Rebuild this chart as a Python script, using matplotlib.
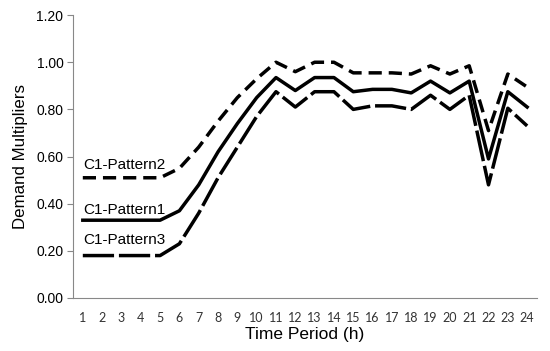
import matplotlib
matplotlib.use("Agg")
import matplotlib.pyplot as plt

hours = list(range(1, 25))
pattern1 = [0.33, 0.33, 0.33, 0.33, 0.33, 0.37, 0.48, 0.62, 0.74, 0.85, 0.935, 0.88,
            0.935, 0.935, 0.875, 0.885, 0.885, 0.87, 0.92, 0.87, 0.92, 0.59, 0.875, 0.81]
pattern2 = [0.51, 0.51, 0.51, 0.51, 0.51, 0.55, 0.64, 0.75, 0.85, 0.93, 1.00, 0.96,
            1.00, 1.00, 0.955, 0.955, 0.955, 0.95, 0.985, 0.95, 0.985, 0.71, 0.95, 0.895]
pattern3 = [0.18, 0.18, 0.18, 0.18, 0.18, 0.23, 0.36, 0.51, 0.64, 0.77, 0.875, 0.81,
            0.875, 0.875, 0.80, 0.815, 0.815, 0.80, 0.86, 0.80, 0.86, 0.48, 0.805, 0.73]
yticks = [0.0, 0.2, 0.4, 0.6, 0.8, 1.0, 1.2]

plt.rcParams["font.family"] = ["Liberation Sans", "DejaVu Sans"]

fig = plt.figure(figsize=(5.5, 3.51), dpi=100)
ax = fig.add_axes([0.133, 0.151, 0.843, 0.806])

ax.plot(hours, pattern2, color="black", lw=2.5, dashes=(3.8, 2.0))
ax.plot(hours, pattern1, color="black", lw=2.5)
ax.plot(hours, pattern3, color="black", lw=2.5, dashes=(9, 1.4))

ax.text(1, 0.565, "C1-Pattern2", fontsize=11, va="center", ha="left")
ax.text(1, 0.373, "C1-Pattern1", fontsize=11, va="center", ha="left")
ax.text(1, 0.246, "C1-Pattern3", fontsize=11, va="center", ha="left")

ax.set_xlim(0.5, 24.5)
ax.set_ylim(0, 1.2)
ax.set_yticks(yticks)
ax.set_yticklabels([f"{v:.2f}" for v in yticks], fontsize=10)
ax.set_xticks(hours)
ax.set_xticklabels([str(h) for h in hours], fontsize=9, family="Lato", color="#333333")
ax.tick_params(axis="x", length=0, pad=10)
ax.tick_params(axis="y", length=4, color="#888888", pad=3)

for s in ["top", "right"]:
    ax.spines[s].set_visible(False)
for s in ["left", "bottom"]:
    ax.spines[s].set_color("#888888")

ax.set_ylabel("Demand Multipliers", fontsize=12.2, labelpad=6)
ax.set_xlabel("Time Period (h)", fontsize=12.5, labelpad=2)

fig.savefig("out.png", dpi=100)
